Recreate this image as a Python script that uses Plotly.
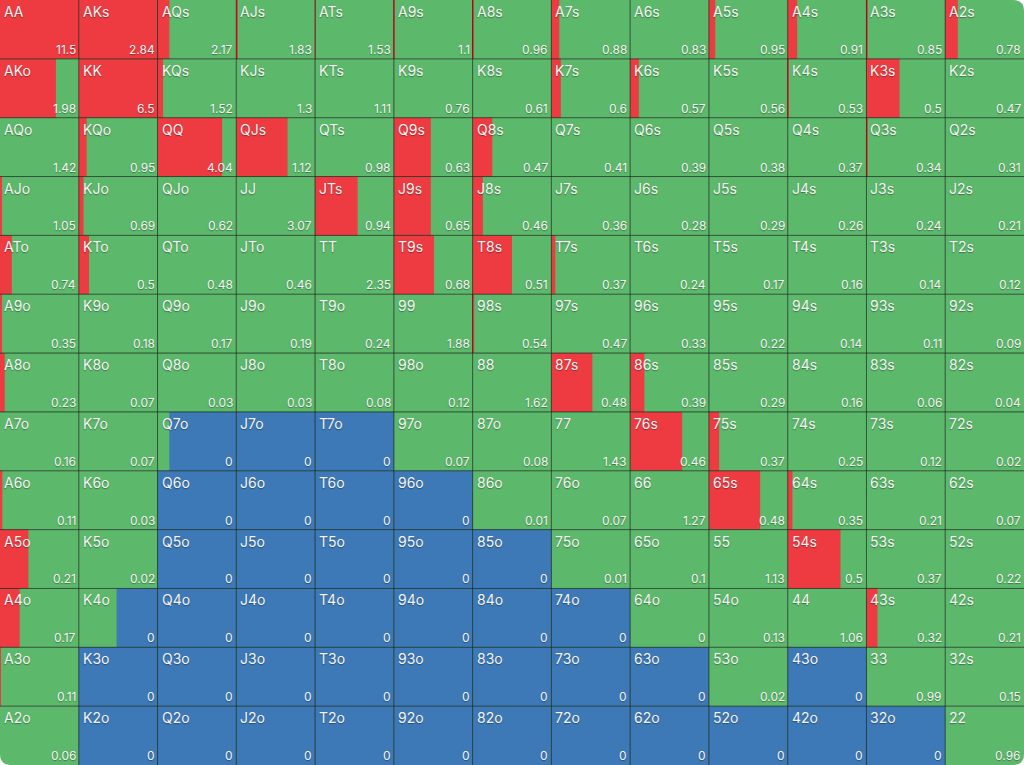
import plotly.graph_objects as go

RANKS = ["A", "K", "Q", "J", "T", "9", "8", "7", "6", "5", "4", "3", "2"]

# value shown in the bottom-right corner of each cell (row = first rank)
ev = [
    [11.5, 2.84, 2.17, 1.83, 1.53, 1.1, 0.96, 0.88, 0.83, 0.95, 0.91, 0.85, 0.78],
    [1.98, 6.5, 1.52, 1.3, 1.11, 0.76, 0.61, 0.6, 0.57, 0.56, 0.53, 0.5, 0.47],
    [1.42, 0.95, 4.04, 1.12, 0.98, 0.63, 0.47, 0.41, 0.39, 0.38, 0.37, 0.34, 0.31],
    [1.05, 0.69, 0.62, 3.07, 0.94, 0.65, 0.46, 0.36, 0.28, 0.29, 0.26, 0.24, 0.21],
    [0.74, 0.5, 0.48, 0.46, 2.35, 0.68, 0.51, 0.37, 0.24, 0.17, 0.16, 0.14, 0.12],
    [0.35, 0.18, 0.17, 0.19, 0.24, 1.88, 0.54, 0.47, 0.33, 0.22, 0.14, 0.11, 0.09],
    [0.23, 0.07, 0.03, 0.03, 0.08, 0.12, 1.62, 0.48, 0.39, 0.29, 0.16, 0.06, 0.04],
    [0.16, 0.07, 0, 0, 0, 0.07, 0.08, 1.43, 0.46, 0.37, 0.25, 0.12, 0.02],
    [0.11, 0.03, 0, 0, 0, 0, 0.01, 0.07, 1.27, 0.48, 0.35, 0.21, 0.07],
    [0.21, 0.02, 0, 0, 0, 0, 0, 0.01, 0.1, 1.13, 0.5, 0.37, 0.22],
    [0.17, 0, 0, 0, 0, 0, 0, 0, 0, 0.13, 1.06, 0.32, 0.21],
    [0.11, 0, 0, 0, 0, 0, 0, 0, 0, 0.02, 0, 0.99, 0.15],
    [0.06, 0, 0, 0, 0, 0, 0, 0, 0, 0, 0, 0, 0.96],
]

# share of the cell that is red (raise)
raise_frac = [
    [1, 1, 0.15, 0.01, 0.01, 0.01, 0.01, 0.10, 0, 0.08, 0.12, 0.01, 0.16],
    [0.71, 1, 0.07, 0, 0, 0, 0, 0.12, 0.11, 0, 0.01, 0.42, 0],
    [0, 0.10, 0.82, 0.65, 0, 0.47, 0.25, 0, 0, 0, 0, 0.01, 0],
    [0.02, 0.06, 0, 0, 0.54, 0.47, 0.13, 0, 0, 0, 0, 0, 0],
    [0.15, 0.13, 0, 0, 0, 0.51, 0.50, 0.05, 0, 0, 0, 0, 0],
    [0.02, 0, 0, 0, 0, 0, 0.02, 0, 0, 0, 0, 0, 0],
    [0.06, 0, 0, 0, 0, 0, 0, 0.52, 0.18, 0, 0, 0, 0],
    [0, 0, 0, 0, 0, 0, 0, 0, 0.66, 0.13, 0, 0, 0],
    [0.03, 0, 0, 0, 0, 0, 0, 0, 0, 0.65, 0.06, 0, 0],
    [0.36, 0, 0, 0, 0, 0, 0, 0, 0, 0, 0.67, 0, 0],
    [0.25, 0, 0, 0, 0, 0, 0, 0, 0, 0, 0, 0.14, 0],
    [0.01, 0, 0, 0, 0, 0, 0, 0, 0, 0, 0, 0, 0],
    [0, 0, 0, 0, 0, 0, 0, 0, 0, 0, 0, 0, 0],
]

# share of the cell that is blue (fold); the rest is green
fold_frac = [
    [0] * 13,
    [0] * 13,
    [0] * 13,
    [0] * 13,
    [0] * 13,
    [0] * 13,
    [0] * 13,
    [0, 0, 0.85, 1, 1, 0, 0, 0, 0, 0, 0, 0, 0],
    [0, 0, 1, 1, 1, 1, 0, 0, 0, 0, 0, 0, 0],
    [0, 0, 1, 1, 1, 1, 1, 0, 0, 0, 0, 0, 0],
    [0, 0.52, 1, 1, 1, 1, 1, 1, 0, 0, 0, 0, 0],
    [0, 1, 1, 1, 1, 1, 1, 1, 1, 0, 1, 0, 0],
    [0, 1, 1, 1, 1, 1, 1, 1, 1, 1, 1, 1, 0],
]

RED = "#ee3b41"
GREEN = "#5cb86a"
BLUE = "#3d79b7"


def hand_label(r, c):
    if r == c:
        return RANKS[r] + RANKS[c]
    if c > r:
        return RANKS[r] + RANKS[c] + "s"
    return RANKS[c] + RANKS[r] + "o"


rows, cell_x, cell_base = [], [], []
red_x, red_base, blue_x, blue_base = [], [], [], []
annotations = []
txt_font = dict(family="Inter, Roboto, sans-serif", color="#f4f4f4",
                shadow="0px 1px 1px rgba(0,0,0,0.35)")
for r in range(13):
    for c in range(13):
        red = raise_frac[r][c]
        blue = fold_frac[r][c]
        rows.append(r + 0.5)
        # green (call) fills the cell underneath, raise and fold sit on top
        cell_x.append(1)
        cell_base.append(c)
        red_x.append(red)
        red_base.append(c)
        blue_x.append(blue)
        blue_base.append(c + 1 - blue)
        annotations.append(dict(
            x=c, y=r, text=hand_label(r, c), showarrow=False,
            xanchor="left", yanchor="top", xshift=2, yshift=-1,
            font=dict(size=14, **txt_font),
        ))
        annotations.append(dict(
            x=c + 1, y=r + 1, text=f"{ev[r][c]:g}", showarrow=False,
            xanchor="right", yanchor="bottom", xshift=-1, yshift=0,
            font=dict(size=12, **txt_font),
        ))

fig = go.Figure()
for name, xs, bases, color in [
    ("call", cell_x, cell_base, GREEN),
    ("raise", red_x, red_base, RED),
    ("fold", blue_x, blue_base, BLUE),
]:
    fig.add_trace(go.Bar(
        name=name, orientation="h", y=rows, x=xs, base=bases, width=1,
        marker=dict(color=color, line=dict(width=0)), hoverinfo="skip",
    ))

shapes = []
line_style = dict(color="rgba(25,40,30,0.75)", width=1)
for i in range(1, 13):
    shapes.append(dict(type="line", x0=i, x1=i, y0=0, y1=13, line=line_style, layer="above"))
    shapes.append(dict(type="line", x0=0, x1=13, y0=i, y1=i, line=line_style, layer="above"))

# rounded corners of the card (paper coords, radius ~11px)
rx, ry = 11 / 1024, 11 / 765
corner = dict(type="path", xref="paper", yref="paper", fillcolor="white",
              line=dict(width=0), layer="above")
shapes.append(dict(corner, path=f"M 1,1 L {1 - rx},1 Q 1,1 1,{1 - ry} Z"))
shapes.append(dict(corner, path=f"M 1,0 L {1 - rx},0 Q 1,0 1,{ry} Z"))
shapes.append(dict(corner, path=f"M 0,0 L {rx},0 Q 0,0 0,{ry} Z"))

fig.update_layout(
    width=1024, height=765,
    margin=dict(l=0, r=0, t=0, b=0),
    barmode="overlay",
    showlegend=False,
    plot_bgcolor="white", paper_bgcolor="white",
    xaxis=dict(range=[0, 13], visible=False, fixedrange=True),
    yaxis=dict(range=[13, 0], visible=False, fixedrange=True),
    shapes=shapes,
    annotations=annotations,
)

fig.write_html(
    "out.html",
    config={"displayModeBar": False},
    post_script="document.body.style.margin='0';document.body.style.overflow='hidden';",
)
